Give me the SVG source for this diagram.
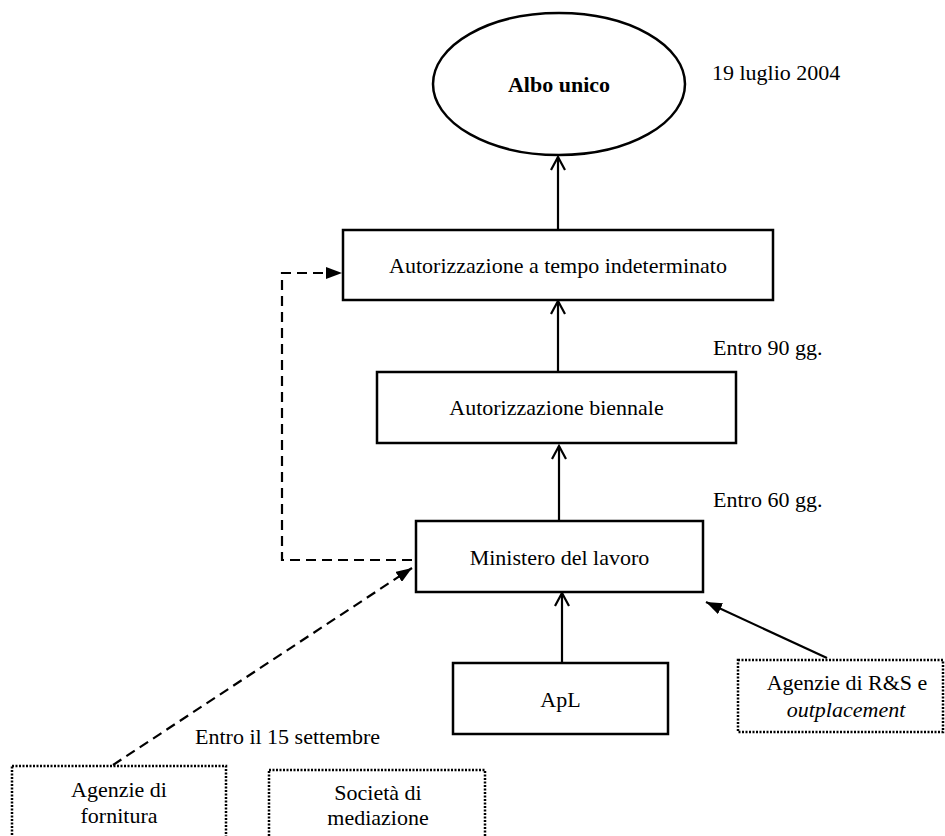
<svg xmlns="http://www.w3.org/2000/svg" width="945" height="836" viewBox="0 0 945 836">
<defs>
<style>
text{font-family:"Liberation Serif","Times New Roman",serif;font-size:22px;fill:#000}
.c{text-anchor:middle}
.box{fill:#fff;stroke:#000;stroke-width:2.5}
.dot{fill:#fff;stroke:#000;stroke-width:2.5;stroke-dasharray:2 1.5}
.ln{fill:none;stroke:#000;stroke-width:2.2}
.dash{fill:none;stroke:#000;stroke-width:2.2;stroke-dasharray:10 6}
</style>
<marker id="open" viewBox="0 0 16 16" refX="14" refY="8" markerWidth="16" markerHeight="16" markerUnits="userSpaceOnUse" orient="auto">
<path d="M1,1 L14,8 L1,15" fill="none" stroke="#000" stroke-width="2.2"/>
</marker>
<marker id="fill" viewBox="0 0 16 12" refX="16" refY="6" markerWidth="16" markerHeight="12" markerUnits="userSpaceOnUse" orient="auto">
<path d="M0,0 L16,6 L0,12 Z" fill="#000"/>
</marker>
</defs>
<rect width="945" height="836" fill="#fff"/>
<g id="connectors">
<line class="ln" x1="558" y1="229" x2="558" y2="157" marker-end="url(#open)"/>
<line class="ln" x1="558" y1="371" x2="558" y2="301" marker-end="url(#open)"/>
<line class="ln" x1="559" y1="520" x2="559" y2="446" marker-end="url(#open)"/>
<line class="ln" x1="562" y1="662" x2="562" y2="593" marker-end="url(#open)"/>
<path class="dash" d="M412,560 H282 V273 H342" marker-end="url(#fill)"/>
<line class="dash" x1="113" y1="765" x2="412" y2="568" marker-end="url(#fill)"/>
<line class="ln" x1="827" y1="658" x2="706" y2="602" marker-end="url(#fill)"/>
</g>
<g id="albo">
<ellipse cx="559" cy="84" rx="126" ry="71" fill="#fff" stroke="#000" stroke-width="2.5"/>
<text class="c" x="559" y="92" font-weight="bold">Albo unico</text>
</g>
<g id="data">
<text x="712" y="80">19 luglio 2004</text>
</g>
<g id="indeterminato">
<rect class="box" x="343" y="230" width="430" height="70"/>
<text class="c" x="558" y="273">Autorizzazione a tempo indeterminato</text>
</g>
<g id="biennale">
<rect class="box" x="377" y="372" width="359" height="71"/>
<text class="c" x="556.5" y="415">Autorizzazione biennale</text>
</g>
<g id="ministero">
<rect class="box" x="416" y="521" width="287" height="71"/>
<text class="c" x="559.5" y="565">Ministero del lavoro</text>
</g>
<g id="apl">
<rect class="box" x="453" y="663" width="215" height="71"/>
<text class="c" x="560.5" y="707">ApL</text>
</g>
<g id="labels">
<text x="713" y="355">Entro 90 gg.</text>
<text x="713" y="507">Entro 60 gg.</text>
<text x="195" y="744">Entro il 15 settembre</text>
</g>
<g id="rs">
<rect class="dot" x="738" y="660" width="205" height="72"/>
<text class="c" x="847" y="690">Agenzie di R&amp;S e</text>
<text class="c" x="846" y="717" font-style="italic">outplacement</text>
</g>
<g id="fornitura">
<rect class="dot" x="12" y="766" width="214" height="90"/>
<text class="c" x="119" y="797">Agenzie di</text>
<text class="c" x="119" y="823">fornitura</text>
</g>
<g id="mediazione">
<rect class="dot" x="269" y="770" width="216" height="90"/>
<text class="c" x="378" y="800">Società di</text>
<text class="c" x="378" y="825">mediazione</text>
</g>
</svg>
